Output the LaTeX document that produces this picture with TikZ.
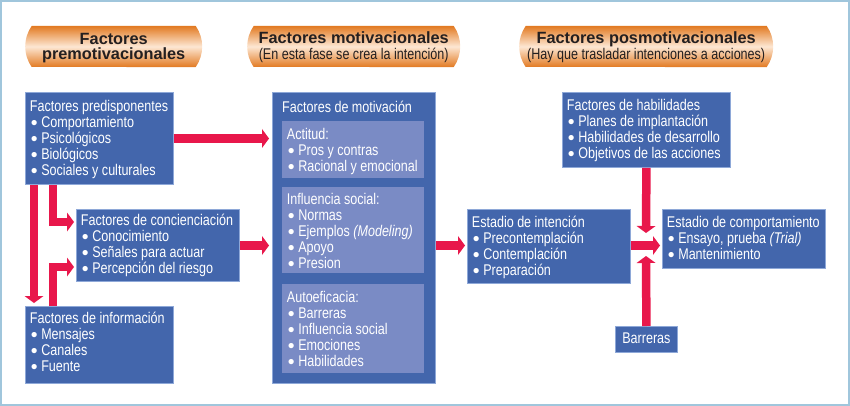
\documentclass[tikz,border=0pt]{standalone}
\usepackage{fontspec}
\newfontfamily\cond{Liberation Sans}[FakeStretch=0.81]
\newfontfamily\hfont{Liberation Sans}
\newfontfamily\bulfont{Liberation Sans}
\usetikzlibrary{arrows.meta,shapes.misc,calc}
\definecolor{boxblue}{HTML}{4366AC}
\definecolor{innerblue}{HTML}{7A8BC5}
\definecolor{boxline}{HTML}{8EA8D8}
\definecolor{arrred}{HTML}{E8174B}
\definecolor{framecol}{HTML}{A0C6DC}
\definecolor{orangeA}{HTML}{E27A22}
\definecolor{orangeB}{HTML}{FDE7D3}
\definecolor{headtext}{HTML}{231F20}
\newcommand\bu{\hspace*{1pt}\raisebox{-2.2pt}{\scalebox{1.25}{\bulfont •}}\hspace{3.6pt}}
\newcommand\tstr[1]{\rule{0pt}{#1pt}}
\newcommand\dstr[1]{\rule[-#1pt]{0pt}{#1pt}}
\newcommand\li[1]{\mbox{#1}}
\begin{document}
\begin{tikzpicture}[x=1pt,y=-1pt,
  box/.style={draw=boxline, line width=0.8pt, fill=boxblue, text=white,
    font=\cond\fontsize{15.5}{16}\selectfont, align=flush left, anchor=north west,
    inner xsep=4.5pt, inner ysep=0pt},
  innerbox/.style={box, draw=none, fill=innerblue},
  banner/.style={rounded rectangle, rounded rectangle arc length=70,
    top color=orangeA, bottom color=orangeA, middle color=orangeB,
    text=headtext, align=center, anchor=west, inner sep=0pt,
    minimum height=41pt},
  arr/.style={draw=arrred, line width=8.5pt,
    -{Triangle[width=19pt,length=7pt,line width=0pt]}}]
\useasboundingbox (0,0) rectangle (850,406);
\draw[framecol, line width=2pt] (1,1) rectangle (849,405);

% banners
\node[banner, minimum width=177pt, font=\hfont\bfseries\fontsize{16.3}{14.8}\selectfont] (b1) at (25,46.5)
  {\tstr{19}Factores\\premotivacionales\dstr{7.2}};
\node[banner, minimum width=213pt, font=\fontsize{16}{16}\selectfont] (b2) at (247,46.5)
  {\tstr{17.3}{\hfont\bfseries\fontsize{16.3}{16}\selectfont Factores motivacionales}\\{\cond\fontsize{15.5}{16}\selectfont (En esta fase se crea la intención)}\dstr{7.7}};
\node[banner, minimum width=254pt, font=\fontsize{16}{16}\selectfont] (b3) at (519,46.5)
  {\tstr{17.3}{\hfont\bfseries\fontsize{16.3}{16}\selectfont Factores posmotivacionales}\\{\cond\fontsize{15.5}{16}\selectfont (Hay que trasladar intenciones a acciones)}\dstr{7.7}};

% left column
\node[box, text width=139pt] (pre) at (25,92)
  {\li{\tstr{19}Factores predisponentes}\\ \li{\bu Comportamiento}\\ \li{\bu Psicológicos}\\ \li{\bu Biológicos}\\ \li{\bu Sociales y culturales\dstr{9}}};
\node[box, text width=154pt] (con) at (76,209)
  {\li{\tstr{16}Factores de concienciación}\\ \li{\bu Conocimiento}\\ \li{\bu Señales para actuar}\\ \li{\bu Percepción del riesgo\dstr{7.7}}};
\node[box, text width=139pt] (inf) at (25,306)
  {\li{\tstr{17.3}Factores de información}\\ \li{\bu Mensajes}\\ \li{\bu Canales}\\ \li{\bu Fuente\dstr{11.7}}};

% motivation column
\node[draw=boxline, line width=0.8pt, fill=boxblue, anchor=north west, inner sep=0pt,
  minimum width=163pt, minimum height=291pt] (mot) at (272,92) {};
\node[anchor=base west, inner sep=0pt, text=white, font=\cond\fontsize{15.5}{16}\selectfont]
  (motT) at ($(mot.north west)+(10,21)$) {Factores de motivación};
\node[innerbox, text width=133pt] (act) at (282,121)
  {\li{\tstr{18.3}Actitud:}\\ \li{\bu Pros y contras}\\ \li{\bu Racional y emocional\dstr{6}}};
\node[innerbox, text width=133pt] (soc) at (282,186.7)
  {\li{\tstr{17.3}Influencia social:}\\ \li{\bu Normas}\\ \li{\bu Ejemplos \textit{(Modeling)}}\\ \li{\bu Apoyo}\\ \li{\bu Presion\dstr{4.7}}};
\node[innerbox, text width=133pt] (aut) at (282,283.7)
  {\li{\tstr{18}Autoeficacia:}\\ \li{\bu Barreras}\\ \li{\bu Influencia social}\\ \li{\bu Emociones}\\ \li{\bu Habilidades\dstr{7}}};

% right part
\node[box, text width=159pt] (hab) at (562,92)
  {\li{\tstr{18}Factores de habilidades}\\ \li{\bu Planes de implantación}\\ \li{\bu Habilidades de desarrollo}\\ \li{\bu Objetivos de las acciones\dstr{9}}};
\node[box, text width=154pt] (int) at (467,209)
  {\li{\tstr{18}Estadio de intención}\\ \li{\bu Precontemplación}\\ \li{\bu Contemplación}\\ \li{\bu Preparación\dstr{8}}};
\node[box, text width=154pt] (comp) at (662,209)
  {\li{\tstr{18}Estadio de comportamiento}\\ \li{\bu Ensayo, prueba \textit{(Trial)}}\\ \li{\bu Mantenimiento\dstr{9}}};
\node[box, text width=53pt, align=center] (bar) at (615,326)
  {\li{\tstr{17.5}Barreras\dstr{8.5}}};

% guide coordinates
\coordinate (x34) at (34,0);
\coordinate (x53) at (53,0);
\coordinate (ya1) at (0,138.5);
\coordinate (y245) at (0,245.5);
\coordinate (junT) at (646,233);
\coordinate (junB) at (646,256);

% arrows
\draw[arr, shorten >=3pt] (pre.east |- ya1) -- (mot.west |- ya1);
\draw[arr, shorten >=3pt] (pre.south -| x34) -- (inf.north -| x34);
\draw[arr, shorten >=2pt] (pre.south -| x53) |- ($(con.north west)+(0,13)$);
\draw[arr, shorten >=2pt] (inf.north -| x53) |- ($(con.north west)+(0,58)$);
\draw[arr, shorten >=3pt] (con.east |- y245) -- (mot.west |- y245);
\draw[arr, shorten >=2pt] (mot.east |- y245) -- (int.west |- y245);
\draw[arr, shorten >=2pt] (int.east |- y245) -- (comp.west |- y245);
\draw[arr] (hab.south) -- (junT);
\draw[arr] (bar.north) -- (junB);
\end{tikzpicture}
\end{document}
